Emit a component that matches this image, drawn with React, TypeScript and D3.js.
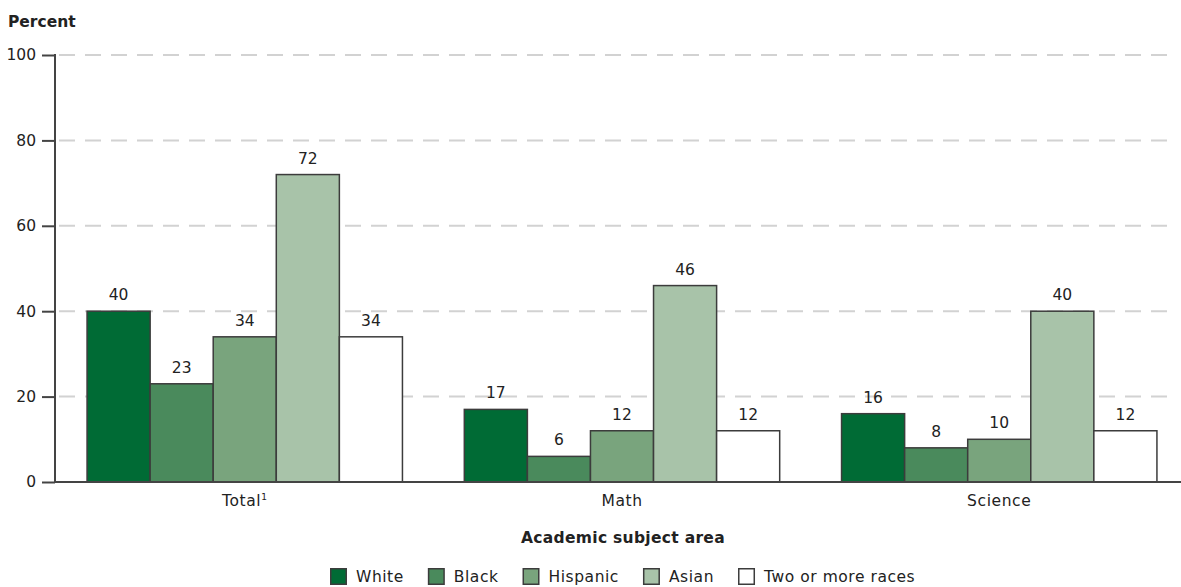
import { useEffect, useRef } from 'react';
import * as d3 from 'd3';

const categories = ['Total', 'Math', 'Science'];
const races = ['White', 'Black', 'Hispanic', 'Asian', 'Two or more races'];
const whiteValues = [40, 17, 16];
const blackValues = [23, 6, 8];
const hispanicValues = [34, 12, 10];
const asianValues = [72, 46, 40];
const twoOrMoreValues = [34, 12, 12];
const yTicks = [0, 20, 40, 60, 80, 100];

const seriesValues = [whiteValues, blackValues, hispanicValues, asianValues, twoOrMoreValues];
const COLORS = ['#006b35', '#4a8a5c', '#79a47d', '#a8c3a9', '#ffffff'];

const W = 1181;
const H = 587;
const FONT = "'DejaVu Sans', sans-serif";
const TEXT = '#222';
const STROKE = '#3c3c3c';

export default function App() {
  const ref = useRef<SVGSVGElement>(null);

  useEffect(() => {
    const svg = d3.select(ref.current);
    svg.selectAll('*').remove();

    const left = 55;
    const top = 55;
    const bottom = 482;

    const y = d3.scaleLinear().domain([0, 100]).range([bottom, top]);
    const x0 = d3.scaleBand<string>()
      .domain(categories)
      .range([left, 1189])
      .paddingInner(0.164)
      .paddingOuter(0.085);
    const x1 = d3.scaleBand<string>()
      .domain(races)
      .range([0, x0.bandwidth()]);

    // dashed grid
    svg.append('g')
      .selectAll('line')
      .data(yTicks.filter((t) => t > 0))
      .join('line')
      .attr('x1', left + 4).attr('x2', 1176)
      .attr('y1', (d) => y(d)).attr('y2', (d) => y(d))
      .attr('stroke', '#d2d2d2')
      .attr('stroke-width', 2)
      .attr('stroke-dasharray', '16,10');

    // y axis
    const yAxis = svg.append('g')
      .attr('transform', `translate(${left},0)`)
      .call(d3.axisLeft(y).tickValues(yTicks).tickSize(13).tickPadding(6));
    yAxis.select('.domain').remove();
    yAxis.selectAll('line').attr('stroke', '#444').attr('stroke-width', 2);
    yAxis.selectAll('text')
      .attr('fill', TEXT)
      .attr('font-size', '15.5px')
      .attr('font-family', FONT);
    svg.append('line')
      .attr('x1', left).attr('x2', left)
      .attr('y1', top - 1).attr('y2', bottom + 1)
      .attr('stroke', '#444').attr('stroke-width', 2);

    // bars
    const groups = svg.append('g')
      .selectAll('g')
      .data(categories)
      .join('g')
      .attr('transform', (d) => `translate(${x0(d)},0)`);

    groups.each(function (cat, ci) {
      const g = d3.select(this);
      const rows = races.map((r, ri) => ({ race: r, value: seriesValues[ri][ci], color: COLORS[ri] }));
      g.selectAll('rect')
        .data(rows)
        .join('rect')
        .attr('x', (d) => x1(d.race)!)
        .attr('y', (d) => y(d.value))
        .attr('width', x1.bandwidth())
        .attr('height', (d) => bottom - y(d.value))
        .attr('fill', (d) => d.color)
        .attr('stroke', STROKE)
        .attr('stroke-width', 1.5);
      g.selectAll('text')
        .data(rows)
        .join('text')
        .attr('x', (d) => x1(d.race)! + x1.bandwidth() / 2)
        .attr('y', (d) => y(d.value) - 11)
        .attr('text-anchor', 'middle')
        .attr('fill', TEXT)
        .attr('font-size', '15.5px')
        .attr('font-family', FONT)
        .text((d) => String(d.value));
    });

    // x axis line
    svg.append('line')
      .attr('x1', left).attr('x2', W)
      .attr('y1', bottom).attr('y2', bottom)
      .attr('stroke', '#444').attr('stroke-width', 2);

    // category labels
    const catLabels = svg.append('g')
      .selectAll('text')
      .data(categories)
      .join('text')
      .attr('x', (d) => x0(d)! + x0.bandwidth() / 2)
      .attr('y', 506)
      .attr('text-anchor', 'middle')
      .attr('fill', TEXT)
      .attr('font-size', '15.5px')
      .attr('letter-spacing', '0.6px')
      .attr('font-family', FONT);
    catLabels.append('tspan').text((d) => d);
    catLabels.filter((d) => d === 'Total')
      .append('tspan')
      .attr('dy', -6)
      .attr('font-size', '9px')
      .text('1');

    // axis titles
    svg.append('text')
      .attr('x', 8).attr('y', 27)
      .attr('fill', TEXT)
      .attr('font-size', '15.5px')
      .attr('font-weight', 'bold')
      .attr('font-family', FONT)
      .text('Percent');
    svg.append('text')
      .attr('x', 623).attr('y', 543)
      .attr('text-anchor', 'middle')
      .attr('fill', TEXT)
      .attr('font-size', '15.5px')
      .attr('font-weight', 'bold')
      .attr('letter-spacing', '0.3px')
      .attr('font-family', FONT)
      .text('Academic subject area');

    // legend
    const legend = svg.append('g').attr('transform', 'translate(330,568)');
    let lx = 0;
    races.forEach((r, i) => {
      const item = legend.append('g').attr('transform', `translate(${lx},0)`);
      item.append('rect')
        .attr('x', 0.75).attr('y', 0.75)
        .attr('width', 15.5).attr('height', 15.5)
        .attr('fill', COLORS[i])
        .attr('stroke', STROKE)
        .attr('stroke-width', 1.5);
      const t = item.append('text')
        .attr('x', 26).attr('y', 14)
        .attr('fill', TEXT)
        .attr('font-size', '15.5px')
        .attr('letter-spacing', '0.55px')
        .attr('font-family', FONT)
        .text(r);
      const tw = (t.node() as SVGTextElement).getComputedTextLength();
      lx += 26 + tw + 24;
    });
  }, []);

  return (
    <div style={{ position: 'absolute', left: 0, top: 0 }}>
      <svg ref={ref} width={W} height={H} style={{ display: 'block', background: '#fff' }} />
    </div>
  );
}
